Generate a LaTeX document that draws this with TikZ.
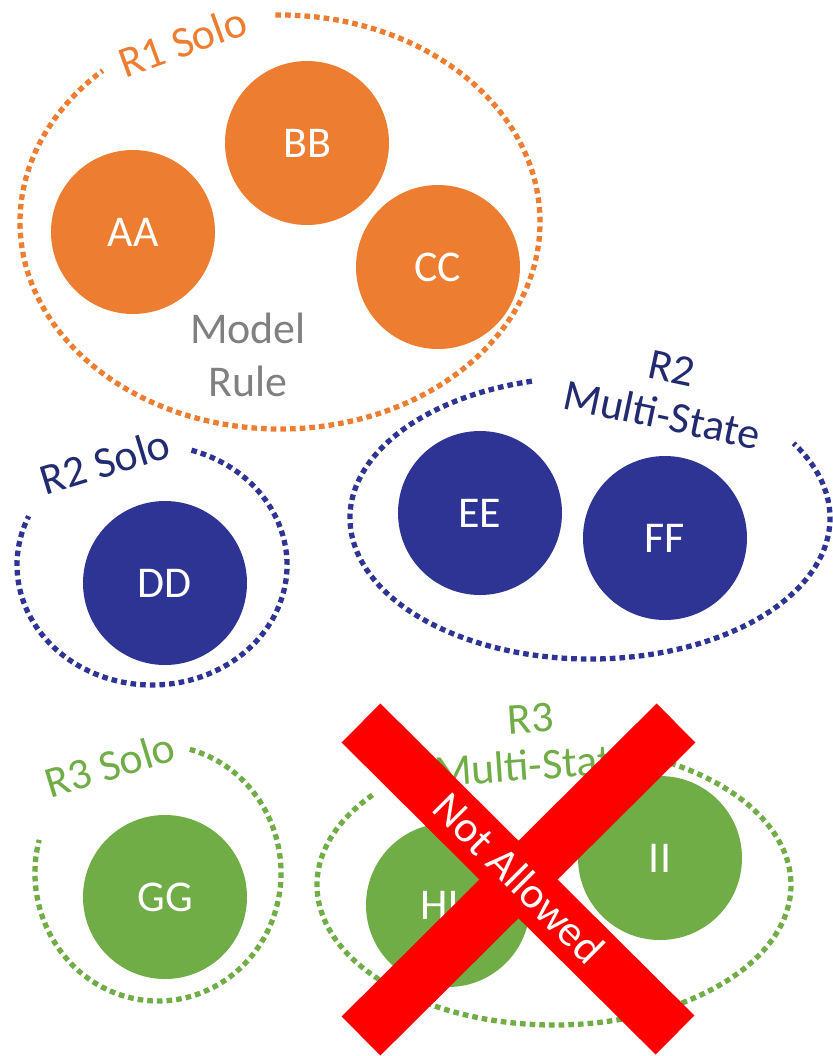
\documentclass[tikz,border=0pt]{standalone}
\usepackage{fontspec}
\setmainfont{Carlito}
\definecolor{ruleOrange}{RGB}{237,125,49}
\definecolor{ruleBlue}{RGB}{46,52,148}
\definecolor{ruleBlueText}{RGB}{34,42,112}
\definecolor{ruleGreen}{RGB}{112,173,71}
\definecolor{ruleGrey}{RGB}{128,128,128}
\definecolor{crossRed}{RGB}{255,0,0}
\newcommand{\labfont}{\fontsize{25}{27}\selectfont}

\begin{document}
\begin{tikzpicture}[ball/.style={circle,fill=#1,minimum size=3.28cm,inner sep=0pt,
            text=white,font=\labfont},
    ring/.style={draw=#1,line width=3pt,dash pattern=on 3.2pt off 2.3pt},
    grouplabel/.style={text=#1,font=\labfont,align=center,inner sep=0pt},
    crossbar/.style={draw=crossRed,line width=1.1cm}]

    \useasboundingbox (0,0) rectangle (16.66,-21.12);

    %R1 solo group
    \draw[ring=ruleOrange] (5.6,-4.44) ++(91:5.2 and 4.14)
        arc[start angle=91,end angle=-227,x radius=5.2,y radius=4.14];
    \node[grouplabel=ruleOrange,rotate=20] (r1solo) at (3.65,-0.84) {R1 Solo};
    \node[ball=ruleOrange] (aa) at (2.66,-4.64) {AA};
    \node[ball=ruleOrange] (bb) at (6.14,-2.86) {BB};
    \node[ball=ruleOrange] (cc) at (8.76,-5.34) {CC};
    \node[grouplabel=ruleGrey,font=\fontsize{25}{30.6}\selectfont] (model) at (4.96,-7.1)
        {Model\\Rule};

    %R2 solo group
    \draw[ring=ruleBlue] (3.04,-11.3) ++(73:2.7 and 2.4)
        arc[start angle=73,end angle=-204,x radius=2.7,y radius=2.4];
    \node[grouplabel=ruleBlueText,rotate=17] (r2solo) at (2.1,-9.24) {R2 Solo};
    \node[ball=ruleBlue] (dd) at (3.3,-11.66) {DD};

    %R2 multi-state group
    \draw[ring=ruleBlue] (11.8,-10.36) ++(104:4.8 and 2.82)
        arc[start angle=104,end angle=392,x radius=4.8,y radius=2.82];
    \node[grouplabel=ruleBlueText,rotate=-12] (r2multi) at (13.34,-7.84) {R2\\Multi-State};
    \node[ball=ruleBlue] (ee) at (9.6,-10.26) {EE};
    \node[ball=ruleBlue] (ff) at (13.3,-10.76) {FF};

    %R3 solo group
    \draw[ring=ruleGreen] (3.16,-17.46) ++(75:2.46 and 2.56)
        arc[start angle=75,end angle=-195,x radius=2.46,y radius=2.56];
    \node[grouplabel=ruleGreen,rotate=17] (r3solo) at (2.2,-15.3) {R3 Solo};
    \node[ball=ruleGreen] (gg) at (3.3,-17.94) {GG};

    %R3 multi-state group
    \draw[ring=ruleGreen] (11.08,-17.7) ++(140:4.74 and 2.8)
        arc[start angle=140,end angle=422,x radius=4.74,y radius=2.8];
    \node[grouplabel=ruleGreen,rotate=4] (r3multi) at (10.64,-14.84) {R3\\Multi-State};
    \node[ball=ruleGreen] (hh) at (8.96,-18.1) {HH};
    \node[ball=ruleGreen] (ii) at (13.2,-17.16) {II};

    %cross over the R3 multi-state group
    \coordinate (xtl) at (7.22,-14.46);
    \coordinate (xbr) at (13.5,-20.7);
    \coordinate (xtr) at (13.52,-14.46);
    \coordinate (xbl) at (7.22,-20.72);
    \draw[crossbar] (xtl) -- (xbr);
    \draw[crossbar] (xtr) -- (xbl);
    \node[grouplabel=white,rotate=-45] (notallowed) at (10.38,-17.56) {Not Allowed};

\end{tikzpicture}
\end{document}
